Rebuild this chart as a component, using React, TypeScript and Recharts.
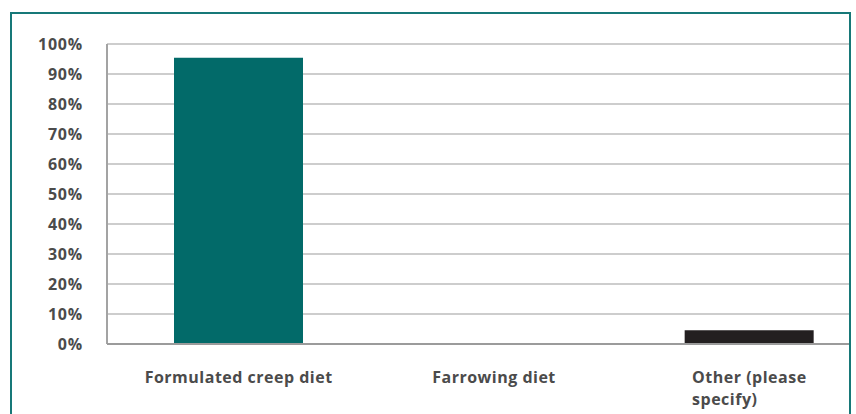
import React from 'react';
import { BarChart, Bar, XAxis, YAxis, CartesianGrid, Cell } from 'recharts';

// Survey answers and their share of respondents (%)
const categories = ['Formulated creep diet', 'Farrowing diet', 'Other (please specify)'];
const categoryLines = [['Formulated creep diet'], ['Farrowing diet'], ['Other (please', 'specify)']];
const shares = [95.4, 0, 4.6];
const yTicks = [0, 10, 20, 30, 40, 50, 60, 70, 80, 90, 100];

const BAR_COLORS = ['#026a69', '#026a69', '#231f20'];
const TEXT_COLOR = '#4b4b4b';
const LABEL_FONT = '700 16px "Open Sans"';
const LABEL_SPACING = 0.5;

const data = categories.map((name, i) => ({ name, share: shares[i] }));

let measureCtx: CanvasRenderingContext2D | null = null;
function textWidth(s: string): number {
  if (typeof document !== 'undefined') {
    if (!measureCtx) measureCtx = document.createElement('canvas').getContext('2d');
    if (measureCtx) {
      measureCtx.font = LABEL_FONT;
      return measureCtx.measureText(s).width + LABEL_SPACING * s.length;
    }
  }
  return s.length * 9;
}

// Category label: block of lines centred under the bar, lines left-aligned within it
function CategoryTick(props: any) {
  const { x, y, payload } = props;
  const idx = categories.indexOf(payload.value);
  const lines = idx >= 0 ? categoryLines[idx] : [String(payload.value)];
  const block = Math.max(...lines.map(textWidth));
  const left = x - block / 2;
  return (
    <g>
      {lines.map((line, i) => (
        <text
          key={i}
          x={left}
          y={y + 39 + i * 22}
          textAnchor="start"
          fill={TEXT_COLOR}
          style={{ font: LABEL_FONT, letterSpacing: LABEL_SPACING }}
        >
          {line}
        </text>
      ))}
    </g>
  );
}

export default function App() {
  return (
    <div
      style={{
        position: 'absolute',
        left: 0,
        top: 0,
        width: 856,
        height: 414,
        overflow: 'hidden',
        background: '#ffffff',
      }}
    >
      <div
        style={{
          position: 'absolute',
          left: 0,
          top: 0,
          width: 849,
          height: 414,
          overflow: 'hidden',
        }}
      >
        <BarChart
          width={900}
          height={414}
          data={data}
          margin={{ top: 44, right: 23, bottom: 40, left: 0 }}
          style={{ fontFamily: '"Open Sans", sans-serif' }}
        >
          <CartesianGrid vertical={false} stroke="#cdcdcd" strokeWidth={2} />
          <YAxis
            width={107}
            domain={[0, 100]}
            ticks={yTicks}
            interval={0}
            tickFormatter={(v: number) => `${v}%`}
            tickLine={false}
            tickSize={6}
            tickMargin={18}
            axisLine={{ stroke: '#a3a3a3', strokeWidth: 2 }}
            tick={{ fill: TEXT_COLOR, fontSize: 16, fontWeight: 700, letterSpacing: 0.8 }}
          />
          <XAxis
            dataKey="name"
            height={30}
            padding={{ left: 4, right: 0 }}
            tickLine={false}
            tickSize={0}
            tickMargin={0}
            interval={0}
            axisLine={{ stroke: '#9b9b9b', strokeWidth: 2 }}
            tick={<CategoryTick />}
          />
          <Bar dataKey="share" barSize={129} isAnimationActive={false}>
            {data.map((d, i) => (
              <Cell key={d.name} fill={BAR_COLORS[i]} />
            ))}
          </Bar>
        </BarChart>
      </div>
      <div
        style={{
          position: 'absolute',
          left: 10,
          top: 12,
          width: 841,
          height: 430,
          boxSizing: 'border-box',
          border: '2px solid #177878',
          pointerEvents: 'none',
        }}
      />
    </div>
  );
}
